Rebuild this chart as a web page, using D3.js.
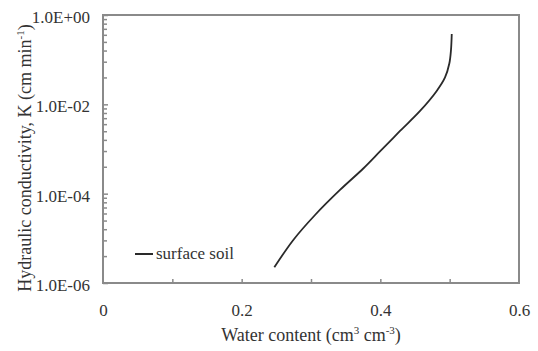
<!DOCTYPE html>
<html>
<head>
<meta charset="utf-8">
<script src="https://cdn.jsdelivr.net/npm/d3@7"></script>
<style>
  html, body { margin: 0; padding: 0; background: #fff; }
  svg { display: block; }
  svg text { font-family: "Liberation Serif", "Times New Roman", serif !important; fill: #333; }
</style>
</head>
<body>
<div id="chart"></div>
<script>
// ---- data ----
const waterContent = [0.2471, 0.2745, 0.3058, 0.3418, 0.3754, 0.3995, 0.4284, 0.4573, 0.4813, 0.4933, 0.4995, 0.5019, 0.5030];
const conductivity = [2.25e-6, 9.2e-6, 3.33e-5, 1.21e-4, 3.66e-4, 8.8e-4, 2.53e-3, 7.1e-3, 1.99e-2, 3.99e-2, 8.2e-2, 0.164, 0.376];
const seriesName = "surface soil";

const xTickLabels = [0, 0.2, 0.4, 0.6];
const xMinorTicks = [0.1, 0.2, 0.3, 0.4, 0.5];
const yTickValues = [1e0, 1e-2, 1e-4, 1e-6];
const yTickLabels = ["1.0E+00", "1.0E-02", "1.0E-04", "1.0E-06"];
const yMinorMultipliers = [0.81, 0.64, 0.49, 0.36, 0.25, 0.16, 0.09, 0.04];

const W = 538, H = 351;
const m = { left: 103, right: 19, top: 15, bottom: 68 };
const pw = W - m.left - m.right, ph = H - m.top - m.bottom;
const FONT = '"Liberation Serif", "Times New Roman", serif';

const svg = d3.select("#chart").append("svg").attr("width", W).attr("height", H)
  .style("font-family", FONT);
const g = svg.append("g").attr("transform", `translate(${m.left},${m.top})`);

const x = d3.scaleLinear().domain([0, 0.6]).range([0, pw]);
const y = d3.scaleLog().domain([1e-6, 1e0]).range([ph, 0]);

const axisColor = "#8a8a8a";

// minor y ticks (inside)
const yMinor = [];
yTickValues.slice(0, 3).forEach(v => yMinorMultipliers.forEach(k => yMinor.push(v * k)));
g.append("g").call(d3.axisLeft(y).tickValues(yMinor).tickSize(-4).tickFormat(""))
  .call(a => a.select(".domain").remove())
  .selectAll("line").attr("stroke", axisColor).attr("stroke-width", 1.5);

// major y ticks
g.append("g").call(d3.axisLeft(y).tickValues(yTickValues).tickSize(-5).tickPadding(13)
    .tickFormat((d, i) => yTickLabels[i]))
  .attr("font-family", null)
  .call(a => a.select(".domain").remove())
  .call(a => a.selectAll("line").attr("stroke", axisColor).attr("stroke-width", 1.5))
  .call(a => a.selectAll("text").attr("font-size", 17).attr("fill", "#333")
      .style("font-family", FONT).attr("dy", "0.45em"));

// x ticks (inside)
g.append("g").attr("transform", `translate(0,${ph})`)
  .call(d3.axisBottom(x).tickValues(xMinorTicks).tickSize(-4).tickFormat(""))
  .call(a => a.select(".domain").remove())
  .selectAll("line").attr("stroke", axisColor).attr("stroke-width", 1.5);

g.append("g").attr("transform", `translate(0,${ph})`)
  .call(d3.axisBottom(x).tickValues(xTickLabels).tickSize(0).tickPadding(21)
    .tickFormat(d => d === 0 ? "0" : d3.format(".1f")(d)))
  .attr("font-family", null)
  .call(a => a.select(".domain").remove())
  .call(a => a.selectAll("text").attr("font-size", 17).attr("fill", "#333")
      .style("font-family", FONT));

// plot frame
g.append("rect").attr("x", 0).attr("y", 0).attr("width", pw).attr("height", ph)
  .attr("fill", "none").attr("stroke", axisColor).attr("stroke-width", 2);

// curve
const pts = waterContent.map((t, i) => [t, conductivity[i]]);
g.append("path").datum(pts)
  .attr("fill", "none").attr("stroke", "#2a2a2a").attr("stroke-width", 1.8)
  .attr("d", d3.line().x(d => x(d[0])).y(d => y(d[1])).curve(d3.curveCatmullRom.alpha(0.5)));

// legend
const lg = g.append("g").attr("transform", `translate(${135 - m.left},${254 - m.top})`);
lg.append("line").attr("x1", 0).attr("x2", 18).attr("y1", 0).attr("y2", 0)
  .attr("stroke", "#2a2a2a").attr("stroke-width", 2);
lg.append("text").attr("x", 21).attr("y", 5).attr("font-size", 17)
  .style("font-family", FONT).text(seriesName);

// x title
const xt = svg.append("text").attr("x", m.left + pw / 2).attr("y", 341)
  .attr("text-anchor", "middle").attr("font-size", 18).style("font-family", FONT);
xt.append("tspan").text("Water content (cm");
xt.append("tspan").attr("dy", -7).attr("font-size", 11).text("3");
xt.append("tspan").attr("dy", 7).text(" cm");
xt.append("tspan").attr("dy", -7).attr("font-size", 11).text("-3");
xt.append("tspan").attr("dy", 7).text(")");

// y title
const yt = svg.append("text").attr("transform", `translate(31,158) rotate(-90)`)
  .attr("text-anchor", "middle").attr("font-size", 18).style("font-family", FONT);
yt.append("tspan").text("Hydraulic conductivity, K (cm min");
yt.append("tspan").attr("dy", -7).attr("font-size", 11).text("-1");
yt.append("tspan").attr("dy", 7).text(")");
</script>
</body>
</html>
